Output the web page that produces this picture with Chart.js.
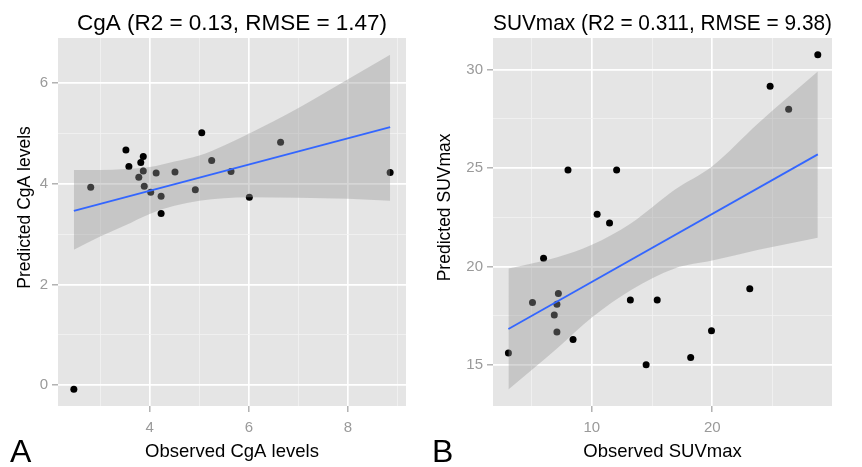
<!DOCTYPE html>
<html>
<head>
<meta charset="utf-8">
<script src="https://cdn.jsdelivr.net/npm/chart.js@4.4.0/dist/chart.umd.min.js"></script>
<style>
  body { margin: 0; background: #fff; width: 862px; height: 467px; overflow: hidden; position: relative; font-family: "Liberation Sans", Arial, sans-serif; }
  canvas { position: absolute; top: 0; }
  #chartA { left: 0; }
  #chartB { left: 431px; }
  .tag { position: absolute; font-size: 32px; line-height: 1; color: #000; }
</style>
</head>
<body>
<canvas id="chartA" width="431" height="467"></canvas>
<canvas id="chartB" width="431" height="467"></canvas>
<div class="tag" style="left:10px; top:435px">A</div>
<div class="tag" style="left:432px; top:435px">B</div>
<script>
// panel A - CgA
const cgaObserved  = [2.47, 2.81, 3.52, 3.58, 3.87, 3.82, 3.87, 3.78, 3.89, 4.02, 4.13, 4.23, 4.23, 4.51, 5.05, 4.92, 5.25, 5.64, 6.01, 6.64, 8.85];
const cgaPredicted = [-0.08, 3.93, 4.67, 4.34, 4.54, 4.42, 4.25, 4.13, 3.95, 3.83, 4.21, 3.75, 3.41, 4.23, 5.01, 3.88, 4.46, 4.24, 3.73, 4.82, 4.22];
const cgaFitX = [2.47, 8.85];
const cgaFitY = [3.46, 5.12];
const cgaBandX     = [2.47, 3.0, 3.5, 4.0, 4.5, 5.0, 5.5, 6.0, 7.0, 8.0, 8.85];
const cgaBandUpper = [4.27, 4.27, 4.29, 4.33, 4.44, 4.56, 4.76, 4.99, 5.50, 6.07, 6.56];
const cgaBandLower = [2.69, 2.95, 3.17, 3.40, 3.56, 3.66, 3.71, 3.73, 3.72, 3.70, 3.66];
const cgaXMajor = [4, 6, 8];
const cgaXMinor = [3, 5, 7, 9];
const cgaYMajor = [0, 2, 4, 6];
const cgaYMinor = [1, 3, 5];

// panel B - SUVmax
const suvObserved  = [3.07, 5.07, 5.99, 7.22, 7.10, 6.88, 7.10, 8.02, 8.44, 10.44, 11.47, 12.06, 13.2, 14.51, 15.43, 18.21, 19.94, 23.12, 24.81, 26.35, 28.77];
const suvPredicted = [15.59, 18.17, 20.41, 18.62, 18.08, 17.53, 16.67, 24.91, 16.28, 22.65, 22.21, 24.91, 18.29, 15.0, 18.29, 15.37, 16.73, 18.87, 29.17, 28.0, 30.77];
const suvFitX = [3.07, 28.77];
const suvFitY = [16.82, 25.70];
const suvBandX     = [3.07, 7.13, 10, 13.26, 16.88, 20, 23.85, 28.77];
const suvBandUpper = [19.89, 20.47, 21.1, 22.2, 23.9, 25.1, 27.3, 29.91];
const suvBandLower = [13.74, 15.84, 17.4, 18.8, 19.9, 20.3, 20.85, 21.46];
const suvXMajor = [10, 20];
const suvXMinor = [5, 15, 25];
const suvYMajor = [15, 20, 25, 30];
const suvYMinor = [17.5, 22.5, 27.5];

const family = '"Liberation Sans", Arial, sans-serif';

function zip(xs, ys) {
    return xs.map((x, i) => ({x: x, y: ys[i]}));
}

// grey ggplot panel behind everything
const panelBg = {
    id: 'panelBg',
    beforeDraw(chart) {
        const {ctx, chartArea: a} = chart;
        ctx.save();
        ctx.fillStyle = '#E5E5E5';
        ctx.fillRect(a.left, a.top, a.right - a.left, a.bottom - a.top);
        ctx.restore();
    }
};

function axis(side, min, max, major, minor, label, size, titleSize, titlePad, tickPad) {
    const isMajor = c => c.tick && major.includes(c.tick.value);
    return {
        type: 'linear',
        position: side,
        min: min,
        max: max,
        afterBuildTicks: s => {
            s.ticks = major.concat(minor).sort((a, b) => a - b).map(v => ({value: v}));
        },
        afterFit: s => {
            if (side === 'left') s.width = size; else s.height = size;
        },
        grid: {
            color: c => isMajor(c) ? '#FFFFFF' : '#F2F2F2',
            lineWidth: c => isMajor(c) ? 1.7 : 0.8,
            tickColor: c => isMajor(c) ? '#8C8C8C' : 'rgba(0,0,0,0)',
            tickWidth: 1,
            tickLength: 6
        },
        border: {display: false},
        ticks: {
            color: '#9A9A9A',
            font: {size: 15, family: family},
            padding: tickPad,
            autoSkip: false,
            maxRotation: 0,
            callback: v => major.includes(v) ? String(v) : ''
        },
        title: {
            display: true,
            text: label,
            color: '#000',
            font: {size: titleSize, family: family},
            padding: titlePad
        }
    };
}

function makePanel(id, p) {
    return new Chart(document.getElementById(id), {
        type: 'scatter',
        data: {
            datasets: [
                {data: zip(p.bandX, p.upper), showLine: true, pointRadius: 0, borderColor: 'rgba(0,0,0,0)',
                 borderWidth: 1, fill: false, cubicInterpolationMode: 'monotone', order: 2},
                {data: zip(p.bandX, p.lower), showLine: true, pointRadius: 0, borderColor: 'rgba(0,0,0,0)',
                 borderWidth: 1, fill: '-1', backgroundColor: 'rgba(153,153,153,0.4)',
                 cubicInterpolationMode: 'monotone', order: 2},
                {data: zip(p.fitX, p.fitY), showLine: true, pointRadius: 0, borderColor: '#3366FF',
                 borderWidth: 1.8, fill: false, order: 1},
                {data: zip(p.obs, p.pred), pointRadius: 3.5, backgroundColor: '#000000',
                 borderWidth: 0, order: 3}
            ]
        },
        options: {
            responsive: false,
            animation: false,
            devicePixelRatio: 1,
            layout: {padding: {left: 0, right: p.padRight, top: 0, bottom: 0}},
            plugins: {
                legend: {display: false},
                tooltip: {enabled: false},
                title: {
                    display: true,
                    text: p.title,
                    color: '#000',
                    fullSize: false,
                    font: {size: 22.5, family: family, weight: 'normal'},
                    padding: {top: 10, bottom: 1}
                }
            },
            scales: {
                x: axis('bottom', p.xMin, p.xMax, p.xMajor, p.xMinor, p.xLabel, 61, 18.5, {top: 0, bottom: 4}, 7),
                // leading spaces lift the rotated label a little, like the original
                y: axis('left', p.yMin, p.yMax, p.yMajor, p.yMinor, '      ' + p.yLabel, p.yWidth, 17.5, {top: p.yTitlePad, bottom: 0}, 4)
            }
        },
        plugins: [panelBg]
    });
}

makePanel('chartA', {
    title: 'CgA (R2 = 0.13, RMSE = 1.47)',
    obs: cgaObserved, pred: cgaPredicted,
    fitX: cgaFitX, fitY: cgaFitY,
    bandX: cgaBandX, upper: cgaBandUpper, lower: cgaBandLower,
    xMin: 2.15, xMax: 9.17, xMajor: cgaXMajor, xMinor: cgaXMinor,
    yMin: -0.41, yMax: 6.89, yMajor: cgaYMajor, yMinor: cgaYMinor,
    xLabel: 'Observed CgA levels', yLabel: 'Predicted CgA levels',
    yWidth: 58, yTitlePad: 15, padRight: 25
});

makePanel('chartB', {
    title: 'SUVmax (R2 = 0.311, RMSE = 9.38)',
    obs: suvObserved, pred: suvPredicted,
    fitX: suvFitX, fitY: suvFitY,
    bandX: suvBandX, upper: suvBandUpper, lower: suvBandLower,
    xMin: 1.79, xMax: 29.95, xMajor: suvXMajor, xMinor: suvXMinor,
    yMin: 12.9, yMax: 31.62, yMajor: suvYMajor, yMinor: suvYMinor,
    xLabel: 'Observed SUVmax', yLabel: 'Predicted SUVmax',
    yWidth: 62, yTitlePad: 4, padRight: 30
});
</script>
</body>
</html>
